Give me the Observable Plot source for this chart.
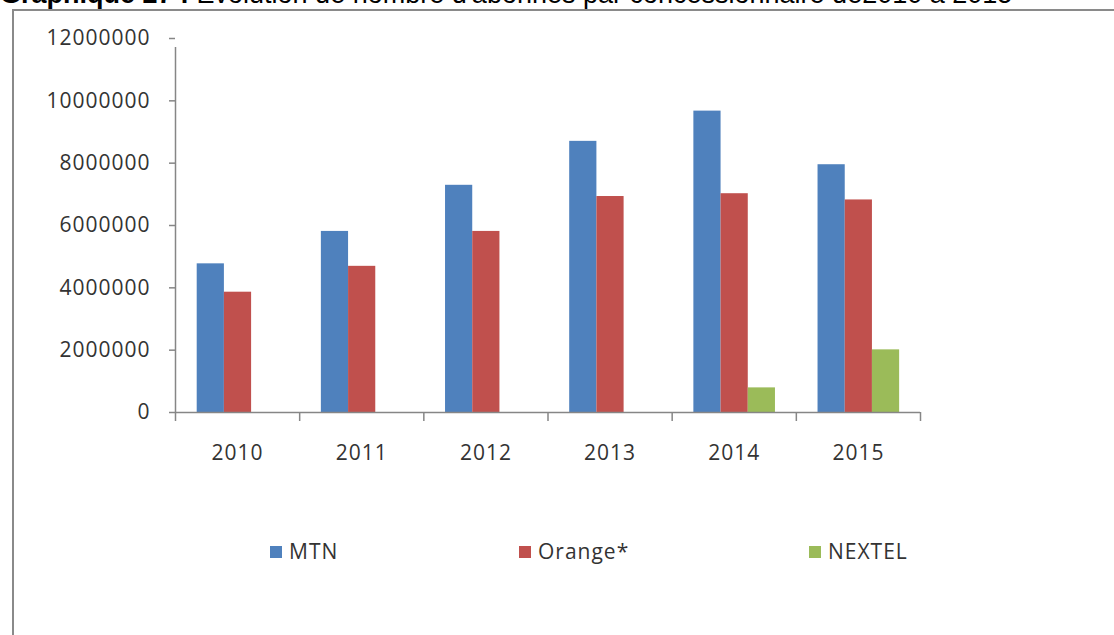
<!DOCTYPE html>
<html>
<head>
<meta charset="utf-8">
<script src="https://cdn.jsdelivr.net/npm/d3@7"></script>
<script src="https://cdn.jsdelivr.net/npm/@observablehq/plot@0.6"></script>
<style>
  html, body { margin: 0; padding: 0; background: #fff; width: 1114px; height: 635px; overflow: hidden; position: relative; }
  #title { position: absolute; left: 0; top: -19px; font-family: "Liberation Sans", Arial, sans-serif; font-size: 27px; line-height: 27px; white-space: nowrap; color: #000; }
  #box { position: absolute; left: 12px; top: 9px; width: 1200px; height: 700px; border: 2px solid #8a8a8a; box-sizing: border-box; }
  #chart { position: absolute; left: 0; top: 0; }
  #chart svg text { letter-spacing: 1px; }
  .leg { position: absolute; top: 538px; font-family: "Open Sans", sans-serif; font-size: 21px; letter-spacing: 1px; color: #333; line-height: 26px; white-space: nowrap; }
  .leg .sw { display: inline-block; width: 12px; height: 12px; margin-right: 7px; vertical-align: 1px; }
</style>
</head>
<body>
<div id="title"><b>Graphique 27 :</b> Evolution de nombre d'abonnés par concessionnaire de2010 à 2015</div>
<div id="box"></div>
<div id="chart"></div>
<div id="legend"></div>
<script>
const years = ["2010", "2011", "2012", "2013", "2014", "2015"];
const seriesNames = ["MTN", "Orange*", "NEXTEL"];
const mtn = [4770000, 5810000, 7290000, 8700000, 9670000, 7950000];
const orange = [3860000, 4690000, 5810000, 6930000, 7020000, 6820000];
const nextel = [null, null, null, null, 790000, 2010000];
const yTicks = [0, 2000000, 4000000, 6000000, 8000000, 10000000, 12000000];
const colors = ["#4F81BD", "#C0504D", "#9BBB59"];

const seriesValues = [mtn, orange, nextel];
const data = [];
seriesNames.forEach((s, k) => years.forEach((y, i) => {
  if (seriesValues[k][i] != null) data.push({year: y, series: s, value: seriesValues[k][i]});
}));

const W = 1114, mL = 175, mR = 194, mT = 38, mB = 70, H = 482;
const step = (W - mL - mR) / years.length;
const off0 = 21.7, bw = 27.2;
const axisGray = "#868686";

const barMarks = seriesNames.map((s, k) => Plot.barY(data.filter(d => d.series === s), {
  x: "year", y: "value", fill: colors[k],
  insetLeft: off0 + k * bw,
  insetRight: step - off0 - (k + 1) * bw
}));

const chart = Plot.plot({
  width: W, height: H,
  marginLeft: mL, marginRight: mR, marginTop: mT, marginBottom: mB,
  style: {fontFamily: "'Open Sans', sans-serif", fontSize: "21px", background: "transparent", color: "#333"},
  x: {domain: years, padding: 0, round: false, label: null},
  y: {domain: [0, 12000000], label: null},
  marks: [
    ...barMarks,
    // x axis line
    Plot.ruleY([0], {stroke: axisGray, strokeWidth: 1.5}),
    // category boundary ticks (left of each category)
    Plot.ruleX(years, {x: d => d, y1: 0, y2: 0, dx: -step / 2, insetBottom: -9, stroke: axisGray, strokeWidth: 1.5}),
    Plot.ruleX([years[years.length - 1]], {x: d => d, y1: 0, y2: 0, dx: step / 2, insetBottom: -9, stroke: axisGray, strokeWidth: 1.5}),
    // y axis line
    Plot.ruleX([years[0]], {x: d => d, y1: 0, y2: 12000000, dx: -step / 2, insetBottom: -9, stroke: axisGray, strokeWidth: 1.5}),
    // y ticks
    Plot.axisY({ticks: yTicks, tickSize: 6, tickFormat: () => "", color: axisGray, strokeWidth: 1.5}),
    // y labels
    Plot.axisY({ticks: yTicks, tickSize: 0, tickPadding: 25, tickFormat: d => String(d), color: "#333"}),
    // x labels
    Plot.axisX({tickSize: 0, tickPadding: 33, color: "#333"})
  ]
});
document.getElementById("chart").appendChild(chart);

const legPos = [270, 519, 809];
const legend = document.getElementById("legend");
seriesNames.forEach((s, k) => {
  const item = document.createElement("div");
  item.className = "leg";
  item.style.left = legPos[k] + "px";
  const sw = document.createElement("span");
  sw.className = "sw";
  sw.style.background = colors[k];
  item.appendChild(sw);
  item.appendChild(document.createTextNode(s));
  legend.appendChild(item);
});
</script>
</body>
</html>
